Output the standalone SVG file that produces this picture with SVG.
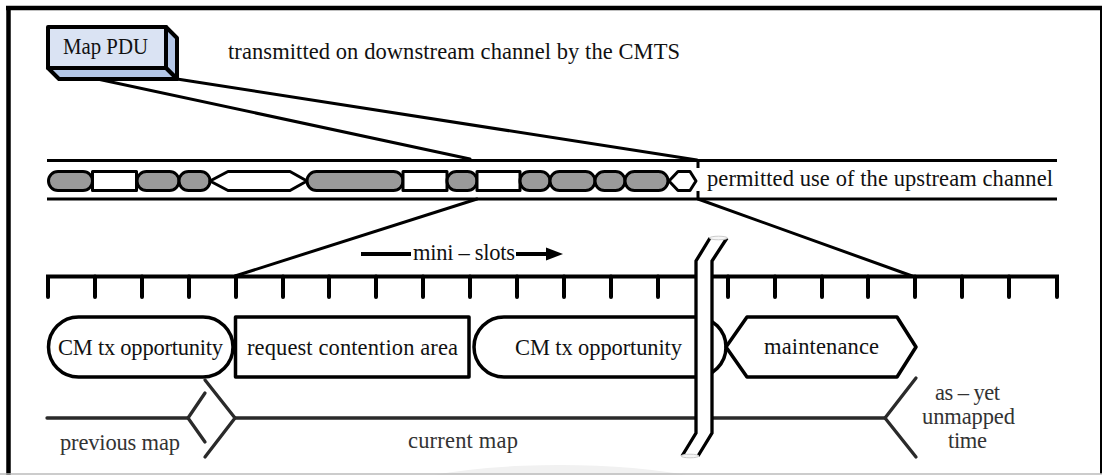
<svg xmlns="http://www.w3.org/2000/svg" width="1102" height="475" viewBox="0 0 1102 475">
  <style>
    .txt { font-family: "Liberation Serif", "Times New Roman", serif; font-size: 22.5px; fill: #111; }
    .sub { fill: #333; }
    .ln { stroke: #000; stroke-width: 3; fill: none; stroke-linecap: round; }
    .ln2 { stroke: #2a2a2a; stroke-width: 3.3; fill: none; stroke-linecap: round; stroke-linejoin: miter; }
    .tick { stroke: #000; stroke-width: 4; fill: none; stroke-linecap: round; }
    .seg { stroke: #000; stroke-width: 3; stroke-linejoin: round; }
    .busy { fill: #9a9a9a; }
    .free { fill: #fff; }
    .box { fill: #fff; stroke: #000; stroke-width: 3.5; stroke-linejoin: round; }
  </style>

  <rect x="0" y="0" width="1102" height="475" fill="#fff"/>
  <!-- faint backdrop shape along the lower edge -->
  <ellipse cx="560" cy="505" rx="190" ry="40" fill="#f1f1f1"/>

  <!-- frame -->
  <g id="frame">
    <line x1="6" y1="8" x2="1102" y2="8" stroke="#000" stroke-width="4.5"/>
    <line x1="8.5" y1="6" x2="8.5" y2="475" stroke="#000" stroke-width="4.5"/>
    <line x1="1101" y1="8" x2="1101" y2="474" stroke="#000" stroke-width="2"/>
    <line x1="0" y1="474" x2="1102" y2="474" stroke="#bbb" stroke-width="1.5"/>
  </g>

  <!-- zoom connectors -->
  <g id="connectors">
    <line class="ln" x1="60" y1="71" x2="470" y2="159"/>
    <line class="ln" x1="177" y1="79" x2="697" y2="160"/>
    <line class="ln" x1="477" y1="199" x2="235" y2="276"/>
    <line class="ln" x1="698" y1="199" x2="915" y2="277"/>
  </g>

  <!-- Map PDU block -->
  <g id="map-pdu">
    <polygon points="166,27 177,38 177,79 166,68" fill="#b4c7e7" stroke="#000" stroke-width="4" stroke-linejoin="round"/>
    <polygon points="48,68 166,68 177,79 59,79" fill="#b4c7e7" stroke="#000" stroke-width="4" stroke-linejoin="round"/>
    <rect x="48" y="27" width="118" height="41" fill="#dae3f3" stroke="#000" stroke-width="4" stroke-linejoin="round"/>
    <text class="txt" x="63" y="54" textLength="85" lengthAdjust="spacingAndGlyphs">Map PDU</text>
  </g>

  <g id="title">
    <text class="txt" x="228" y="59" textLength="452" lengthAdjust="spacing">transmitted on downstream channel by the CMTS</text>
  </g>

  <!-- upstream channel -->
  <g id="upstream-channel">
    <line x1="47" y1="160.5" x2="1057" y2="160.5" stroke="#000" stroke-width="3"/>
    <line x1="47" y1="199" x2="1057" y2="199" stroke="#000" stroke-width="3"/>
    <rect class="seg busy" x="48.5" y="171.5" width="44" height="19" rx="9.5"/>
    <rect class="seg free" x="92.5" y="171.5" width="44" height="19"/>
    <rect class="seg busy" x="137" y="171.5" width="42" height="19" rx="9.5"/>
    <rect class="seg busy" x="179" y="171.5" width="31" height="19" rx="9.5"/>
    <polygon class="seg free" points="210,181 228,171.5 290,171.5 307,181 290,190.5 228,190.5"/>
    <rect class="seg busy" x="307" y="171.5" width="96" height="19" rx="9.5"/>
    <rect class="seg free" x="403" y="171.5" width="44" height="19"/>
    <rect class="seg busy" x="447" y="171.5" width="30" height="19" rx="9.5"/>
    <rect class="seg free" x="477" y="171.5" width="43" height="19"/>
    <rect class="seg busy" x="520" y="171.5" width="30" height="19" rx="9.5"/>
    <rect class="seg busy" x="550" y="171.5" width="45" height="19" rx="9.5"/>
    <rect class="seg busy" x="595" y="171.5" width="30" height="19" rx="9.5"/>
    <rect class="seg busy" x="625" y="171.5" width="43" height="19" rx="9.5"/>
    <polygon class="seg free" points="669,181 678,171.5 690,171.5 696,181 690,190.5 678,190.5"/>
    <line x1="698" y1="160" x2="698" y2="199" stroke="#000" stroke-width="3" stroke-dasharray="8 23"/>
    <text class="txt" x="707" y="186" textLength="346" lengthAdjust="spacing">permitted use of the upstream channel</text>
  </g>

  <!-- mini-slot label -->
  <g id="mini-slots">
    <line x1="361" y1="254" x2="411" y2="254" stroke="#000" stroke-width="4"/>
    <line x1="516" y1="254" x2="548" y2="254" stroke="#000" stroke-width="4"/>
    <polygon points="546,247.5 563,254 546,260.5" fill="#000"/>
    <text class="txt" x="413" y="260" textLength="102" lengthAdjust="spacing">mini – slots</text>
  </g>

  <!-- mini-slot ruler -->
  <g id="ruler">
    <path class="tick" d="M48,297 V276.5 H1057 V297"/>
    <path class="tick" d="M95,276.5 V297 M142,276.5 V297 M189,276.5 V297 M236,276.5 V297 M283,276.5 V297 M329,276.5 V297 M376,276.5 V297 M423,276.5 V297 M470,276.5 V297 M517,276.5 V297 M564,276.5 V297 M611,276.5 V297 M658,276.5 V297 M728,276.5 V297 M775,276.5 V297 M822,276.5 V297 M868,276.5 V297 M915,276.5 V297 M962,276.5 V297 M1009,276.5 V297"/>
  </g>

  <!-- allocation areas -->
  <g id="cm-tx-1">
    <rect class="box" x="48.5" y="317" width="184.5" height="60" rx="30"/>
    <text class="txt" x="58" y="355" textLength="165" lengthAdjust="spacing">CM tx opportunity</text>
  </g>
  <g id="request-contention">
    <rect class="box" x="235.5" y="317" width="233.5" height="60"/>
    <text class="txt" x="247" y="355" textLength="211" lengthAdjust="spacing">request contention area</text>
  </g>
  <g id="maintenance">
    <polygon class="box" points="726,347 747,317 897,317 916,347 897,377 747,377"/>
    <text class="txt" x="764" y="354" textLength="115" lengthAdjust="spacing">maintenance</text>
  </g>
  <g id="cm-tx-2">
    <rect class="box" x="474" y="317" width="252" height="60" rx="30" style="fill:none"/>
    <rect x="505" y="319" width="180" height="56" fill="#fff"/>
    <text class="txt" x="515" y="355" textLength="167" lengthAdjust="spacing">CM tx opportunity</text>
  </g>

  <!-- map boundaries on the time line -->
  <g id="timeline">
    <line class="ln2" x1="47" y1="418" x2="188" y2="418"/>
    <polyline class="ln2" points="205,393 188,418 205,442"/>
    <polyline class="ln2" points="205,380 235,418 205,457"/>
    <line class="ln2" x1="235" y1="418" x2="885" y2="418"/>
    <polyline class="ln2" points="916,378 885,418 916,457"/>
    <text class="txt sub" x="60" y="450" textLength="120" lengthAdjust="spacing">previous map</text>
    <text class="txt sub" x="408" y="448" textLength="110" lengthAdjust="spacing">current map</text>
    <text class="txt sub" x="935" y="400" textLength="65" lengthAdjust="spacing">as – yet</text>
    <text class="txt sub" x="922" y="424" textLength="93" lengthAdjust="spacing">unmapped</text>
    <text class="txt sub" x="948" y="448" textLength="39" lengthAdjust="spacing">time</text>
  </g>

  <!-- time break -->
  <g id="time-break">
    <polygon points="710,238 727,238 712,261 712,433 698,456 682,456 696,433 696,261" fill="#fff"/>
    <polyline points="710,238 696,261 696,433 682,456" fill="none" stroke="#000" stroke-width="3.3" stroke-linejoin="miter"/>
    <polyline points="727,238 712,261 712,433 698,456" fill="none" stroke="#000" stroke-width="3.3" stroke-linejoin="miter"/>
    <ellipse cx="718.5" cy="238" rx="9" ry="1.8" fill="#f6f6f6" stroke="#ccc" stroke-width="1"/>
    <ellipse cx="690" cy="456" rx="9" ry="1.8" fill="#f6f6f6" stroke="#ccc" stroke-width="1"/>
  </g>
</svg>
